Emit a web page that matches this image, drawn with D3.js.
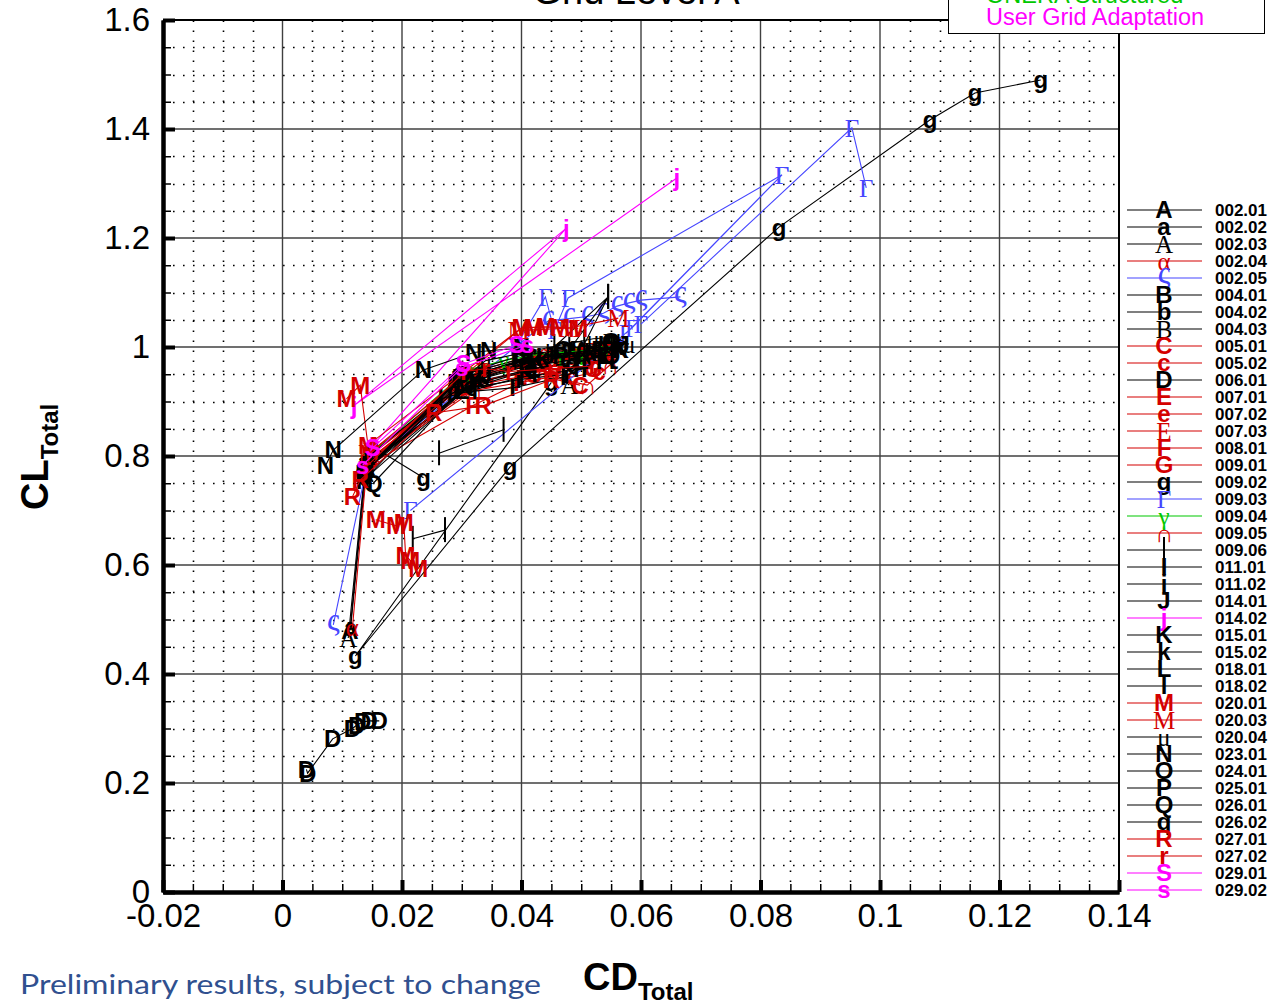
<!DOCTYPE html>
<html>
<head>
<meta charset="utf-8">
<script src="https://cdn.jsdelivr.net/npm/d3@7"></script>
<style>
  body { margin: 0; background: #fff; }
  svg { display: block; }
</style>
</head>
<body>
<svg id="chart" width="1269" height="1006"></svg>
<script>
// ---- Drag polar data: each case is a list of [CD_Total, CL_Total]; null breaks the line ----
const s00201 = [[0.0113,0.480],[0.0138,0.770],[0.0300,0.940],[0.0420,0.980],[0.0500,0.992],[0.0560,1.000]];
const s00202 = [[0.0114,0.485],[0.0140,0.775],[0.0310,0.945],[0.0430,0.985],[0.0510,0.995],[0.0545,1.000]];
const s00203 = [[0.0110,0.466],[0.0137,0.765],[0.0320,0.935],[0.0440,0.965],[0.0480,0.930]];
const s00204 = [[0.0117,0.485],[0.0141,0.778],[0.0320,0.955],[0.0440,0.990],[0.0525,1.000]];
const s00205 = [[0.0085,0.490],[0.0142,0.785],[0.0445,1.048],[0.0480,1.052],[0.0510,1.056],[0.0537,1.062],[0.0560,1.075],[0.0580,1.081],[0.0600,1.086],[0.0666,1.092]];
const s00401 = [[0.0136,0.768],[0.0290,0.935],[0.0400,0.975],[0.0480,0.990],[0.0555,1.005]];
const s00402 = [[0.0139,0.772],[0.0295,0.942],[0.0410,0.978],[0.0490,0.992],[0.0540,1.002]];
const s00403 = [[0.0141,0.780],[0.0305,0.950],[0.0415,0.983],[0.0495,0.996],[0.0550,1.008]];
const s00501 = [[0.0146,0.795],[0.0300,0.925],[0.0420,0.950],[0.0498,0.930]];
const s00502 = [[0.0144,0.790],[0.0295,0.930],[0.0410,0.955],[0.0485,0.945],[0.0530,0.955]];
const s00601 = [[0.0040,0.225],[0.0042,0.218],[0.0084,0.281],[0.0117,0.300],[0.0124,0.306],[0.0134,0.312],[0.0145,0.314],[0.0162,0.314]];
const s00701 = [[0.0145,0.800],[0.0320,0.945],[0.0430,0.970],[0.0500,0.985],[0.0545,0.990]];
const s00702 = [[0.0146,0.805],[0.0330,0.950],[0.0440,0.975],[0.0510,0.990],[0.0550,0.985]];
const s00703 = [[0.0147,0.808],[0.0335,0.955],[0.0450,0.980],[0.0515,0.993]];
const s00801 = [[0.0142,0.782],[0.0318,0.892],[0.0398,0.935],[0.0470,0.965],[0.0520,0.975]];
const s00901 = [[0.0145,0.792],[0.0340,0.940],[0.0450,0.960],[0.0520,0.960]];
const s00902 = [[0.0150,0.818],[0.0236,0.760],null,[0.0450,0.935],[0.0122,0.433],[0.0381,0.780],[0.0831,1.220],[0.1084,1.417],[0.1159,1.466],[0.1269,1.490]];
const s00903 = [[0.0390,1.000],[0.0440,1.092],[0.0455,1.030],[0.0478,1.090],[0.0836,1.316],[0.0585,1.035],[0.0214,0.700],null,[0.0575,1.025],[0.0836,1.316],null,[0.0600,1.042],[0.0953,1.402],[0.0977,1.292]];
const s00904 = [[0.0145,0.800],[0.0310,0.958],[0.0370,0.975],[0.0420,0.985],[0.0465,0.990],[0.0500,0.993],[0.0540,0.996]];
const s00905 = [[0.0143,0.788],[0.0320,0.920],[0.0450,0.945],[0.0510,0.930],[0.0548,0.967]];
const s00906 = [[0.0218,0.648],[0.0272,0.664],null,[0.0262,0.805],[0.0370,0.848],null,[0.0455,1.000],[0.0545,1.092],[0.0480,0.995],null,[0.0545,1.092],[0.0505,1.005]];
const s01101 = [[0.0148,0.790],[0.0280,0.915],[0.0385,0.925],[0.0470,0.945],[0.0530,0.975]];
const s01102 = [[0.0139,0.775],[0.0290,0.920],[0.0395,0.940],[0.0475,0.950]];
const s01401 = [[0.0143,0.785],[0.0340,0.950],[0.0445,0.985],[0.0525,0.995],[0.0570,1.005]];
const s01402 = [[0.0150,0.818],[0.0475,1.218],[0.0120,0.893],[0.0660,1.310]];
const s01501 = [[0.0141,0.780],[0.0325,0.940],[0.0425,0.975],[0.0505,0.985],[0.0565,0.995]];
const s01502 = [[0.0142,0.782],[0.0335,0.945],[0.0435,0.980],[0.0515,0.990],[0.0560,1.000]];
const s01801 = [[0.0135,0.770],[0.0300,0.920],[0.0420,0.960],[0.0500,0.975],[0.0540,0.985]];
const s01802 = [[0.0140,0.778],[0.0265,0.905],[0.0400,0.945],[0.0505,0.960]];
const s02001 = [[0.0156,0.683],[0.0190,0.672],[0.0203,0.678],[0.0206,0.618],[0.0214,0.608],[0.0227,0.594],null,[0.0107,0.905],[0.0130,0.930],[0.0143,0.820],[0.0400,1.035],[0.0420,1.036],[0.0440,1.037],[0.0465,1.036],[0.0495,1.034]];
const s02003 = [[0.0145,0.805],[0.0395,1.030],[0.0480,1.035],[0.0562,1.053]];
const s02004 = [[0.0145,0.800],[0.0340,0.975],[0.0450,1.000],[0.0520,1.015],[0.0557,1.018],[0.0580,1.005]];
const s02301 = [[0.0072,0.782],[0.0085,0.811],[0.0236,0.958],[0.0320,0.990],[0.0345,0.993],[0.0400,0.998]];
const s02401 = [[0.0137,0.768],[0.0300,0.950],[0.0400,0.985],[0.0470,0.995],[0.0550,1.010]];
const s02501 = [[0.0136,0.755],[0.0295,0.940],[0.0395,0.975],[0.0465,0.985],[0.0530,0.995]];
const s02601 = [[0.0152,0.750],[0.0310,0.935],[0.0410,0.965],[0.0480,0.975],[0.0550,0.985]];
const s02602 = [[0.0140,0.760],[0.0315,0.930],[0.0415,0.960],[0.0485,0.970],[0.0545,0.985]];
const s02701 = [[0.0117,0.725],[0.0130,0.756],[0.0253,0.879],[0.0336,0.892],[0.0450,0.940]];
const s02702 = [[0.0140,0.780],[0.0305,0.955],[0.0340,0.960],[0.0380,0.955],[0.0450,0.960],[0.0520,0.965]];
const s02901 = [[0.0151,0.815],[0.0303,0.969],[0.0392,1.004]];
const s02902 = [[0.0134,0.783],[0.0300,0.962],[0.0410,1.004]];

const caseData = [s00201,s00202,s00203,s00204,s00205,s00401,s00402,s00403,s00501,s00502,
  s00601,s00701,s00702,s00703,s00801,s00901,s00902,s00903,s00904,s00905,s00906,
  s01101,s01102,s01401,s01402,s01501,s01502,s01801,s01802,s02001,s02003,s02004,
  s02301,s02401,s02501,s02601,s02602,s02701,s02702,s02901,s02902];

const caseLabels = ["002.01","002.02","002.03","002.04","002.05","004.01","004.02","004.03","005.01","005.02",
  "006.01","007.01","007.02","007.03","008.01","009.01","009.02","009.03","009.04","009.05","009.06",
  "011.01","011.02","014.01","014.02","015.01","015.02","018.01","018.02","020.01","020.03","020.04",
  "023.01","024.01","025.01","026.01","026.02","027.01","027.02","029.01","029.02"];

const caseSymbols = ["A","a","A","α","ς","B","b","B","C","c",
  "D","E","e","E","F","G","g","Γ","γ","∩","|",
  "I","i","J","j","K","k","L","l","M","M","μ",
  "N","O","P","Q","q","R","r","S","s"];

const xTickValues = [-0.02, 0, 0.02, 0.04, 0.06, 0.08, 0.1, 0.12, 0.14];
const yTickValues = [0, 0.2, 0.4, 0.6, 0.8, 1, 1.2, 1.4, 1.6];
const topLegendLabels = ["ONERA Structured", "User Grid Adaptation"];

// ---- styles ----
const K = "#000000", RED = "#d40000", BLU = "#4646ff", GRN = "#00c800", MAG = "#ff00ff";
const caseColors = [K,K,K,RED,BLU,K,K,K,RED,RED,
  K,RED,RED,RED,RED,RED,K,BLU,GRN,RED,K,
  K,K,K,MAG,K,K,K,K,RED,RED,K,
  K,K,K,K,K,RED,RED,MAG,MAG];
// "s" = serif regular glyph, "b" = bold sans glyph
const caseFace = ["b","b","s","s","s","b","b","s","b","b",
  "b","b","b","s","b","b","b","s","s","s","s",
  "b","b","b","b","b","b","b","b","b","s","s",
  "b","b","b","b","b","b","b","b","b"];

const SANS = "'Liberation Sans', Arial, Helvetica, sans-serif";
const SERIF = "'Liberation Serif', 'Times New Roman', 'DejaVu Serif', serif";
const BOLD_SIZE = 24, SERIF_SIZE = 25;

const svg = d3.select("#chart");
const x = d3.scaleLinear().domain([-0.02, 0.14]).range([163, 1119]);
const y = d3.scaleLinear().domain([0, 1.6]).range([892, 20]);

// ---- grid ----
const grid = svg.append("g");
const xMinor = d3.range(-0.02, 0.1401, 0.005).filter(v => Math.abs(Math.round(v / 0.02) * 0.02 - v) > 1e-6);
const yMinor = d3.range(0, 1.6001, 0.05).filter(v => Math.abs(Math.round(v / 0.2) * 0.2 - v) > 1e-6);
const px = v => Math.round(v) + 0.5;
grid.selectAll(".xmin").data(xMinor).join("line")
  .attr("x1", d => px(x(d))).attr("x2", d => px(x(d))).attr("y1", y(0)).attr("y2", y(1.6))
  .attr("stroke", "#000").attr("stroke-width", 1.6).attr("stroke-dasharray", "1.6,8.4");
grid.selectAll(".ymin").data(yMinor).join("line")
  .attr("x1", x(-0.02)).attr("x2", x(0.14)).attr("y1", d => px(y(d))).attr("y2", d => px(y(d)))
  .attr("stroke", "#000").attr("stroke-width", 1.6).attr("stroke-dasharray", "1.6,8.4");
grid.selectAll(".xmaj").data(xTickValues.slice(1, -1)).join("line")
  .attr("x1", d => x(d)).attr("x2", d => x(d)).attr("y1", y(0)).attr("y2", y(1.6))
  .attr("stroke", "#404040").attr("stroke-width", 1.4);
grid.selectAll(".ymaj").data(yTickValues.slice(1, -1)).join("line")
  .attr("x1", x(-0.02)).attr("x2", x(0.14)).attr("y1", d => y(d)).attr("y2", d => y(d))
  .attr("stroke", "#404040").attr("stroke-width", 1.4);

// frame top / right
svg.append("line").attr("x1", x(-0.02)).attr("x2", x(0.14)).attr("y1", y(1.6)).attr("y2", y(1.6))
  .attr("stroke", "#000").attr("stroke-width", 2);
svg.append("line").attr("x1", x(0.14)).attr("x2", x(0.14)).attr("y1", y(0)).attr("y2", y(1.6))
  .attr("stroke", "#000").attr("stroke-width", 2);

// ---- axes ----
const fmt = d => String(+d.toFixed(2));
const xAxisMinor = d3.axisBottom(x).tickValues(xMinor).tickSizeInner(-8).tickSizeOuter(0).tickFormat("");
const xAxis = d3.axisBottom(x).tickValues(xTickValues).tickSizeInner(-12).tickSizeOuter(0).tickPadding(12).tickFormat(fmt);
const yAxisMinor = d3.axisLeft(y).tickValues(yMinor).tickSizeInner(-8).tickSizeOuter(0).tickFormat("");
const yAxis = d3.axisLeft(y).tickValues(yTickValues).tickSizeInner(-12).tickSizeOuter(0).tickPadding(13).tickFormat(fmt);

function styleAxis(g, major) {
  g.select(".domain").attr("stroke", "#000").attr("stroke-width", 4);
  g.selectAll(".tick line").attr("stroke", "#000").attr("stroke-width", major ? 4 : 1.5);
  g.selectAll(".tick text").attr("font-family", SANS).attr("font-size", 33).attr("fill", "#000");
}
svg.append("g").attr("transform", `translate(0,${y(0)})`).call(xAxisMinor).call(g => styleAxis(g, false));
svg.append("g").attr("transform", `translate(0,${y(0)})`).call(xAxis).call(g => styleAxis(g, true));
svg.append("g").attr("transform", `translate(${x(-0.02)},0)`).call(yAxisMinor).call(g => styleAxis(g, false));
svg.append("g").attr("transform", `translate(${x(-0.02)},0)`).call(yAxis).call(g => styleAxis(g, true));

// ---- symbol drawing (text glyphs; the 009.06 marker is a plain vertical bar) ----
function drawSymbol(sel, i) {
  const sym = caseSymbols[i];
  if (sym === "|") {
    sel.append("line").attr("x1", 0).attr("x2", 0).attr("y1", -13).attr("y2", 12)
      .attr("stroke", caseColors[i]).attr("stroke-width", 2);
  } else {
    sel.append("text").attr("dy", sym === "ς" ? "0.15em" : "0.35em").attr("text-anchor", "middle")
      .attr("font-family", caseFace[i] === "b" ? SANS : SERIF)
      .attr("font-weight", caseFace[i] === "b" ? "bold" : "normal")
      .attr("font-size", sym === "ς" ? 32 : (caseFace[i] === "b" ? BOLD_SIZE : SERIF_SIZE))
      .attr("fill", caseColors[i])
      .text(sym);
  }
}

// ---- polar lines and symbols ----
const line = d3.line().defined(d => d !== null).x(d => x(d[0])).y(d => y(d[1]));
const plot = svg.append("g");
caseData.forEach((pts, i) => {
  const g = plot.append("g");
  g.append("path").datum(pts).attr("d", line)
    .attr("fill", "none").attr("stroke", caseColors[i]).attr("stroke-width", 1.1);
  g.selectAll("g.mk").data(pts.filter(p => p !== null)).join("g").attr("class", "mk")
    .attr("transform", d => `translate(${x(d[0])},${y(d[1])})`)
    .each(function () { drawSymbol(d3.select(this), i); });
});

// ---- case legend (right) ----
const leg = svg.append("g");
caseLabels.forEach((lab, i) => {
  const yy = 210 + i * 17;
  leg.append("line").attr("x1", 1127).attr("x2", 1202).attr("y1", yy).attr("y2", yy)
    .attr("stroke", caseColors[i]).attr("stroke-width", 1.1);
  drawSymbol(leg.append("g").attr("transform", `translate(1164,${yy})`), i);
  leg.append("text").attr("x", 1215).attr("y", yy + 6)
    .attr("font-family", SANS).attr("font-weight", "bold").attr("font-size", 17)
    .attr("fill", "#000").text(lab);
});

// ---- grid-type legend box (top right) ----
svg.append("rect").attr("x", 948.5).attr("y", -60).attr("width", 316).attr("height", 93.5)
  .attr("fill", "#fff").attr("stroke", "#000").attr("stroke-width", 1);
[GRN, MAG].forEach((c, i) => {
  svg.append("text").attr("x", 986).attr("y", 3 + i * 22)
    .attr("font-family", SANS).attr("font-size", 23.5).attr("fill", c).text(topLegendLabels[i]);
});

// ---- titles ----
svg.append("text").attr("x", 636).attr("y", 4).attr("text-anchor", "middle")
  .attr("font-family", SANS).attr("font-size", 38).attr("fill", "#000").text("Grid Level A");

const xt = svg.append("text").attr("x", 583).attr("y", 990)
  .attr("font-family", SANS).attr("font-weight", "bold").attr("fill", "#000");
xt.append("tspan").attr("font-size", 38).text("CD");
xt.append("tspan").attr("font-size", 24).attr("dy", 10).text("Total");

const yt = svg.append("text").attr("transform", "translate(48,510) rotate(-90)")
  .attr("font-family", SANS).attr("font-weight", "bold").attr("fill", "#000");
yt.append("tspan").attr("font-size", 38).text("CL");
yt.append("tspan").attr("font-size", 24).attr("dy", 10).text("Total");

svg.append("text").attr("x", 20).attr("y", 994)
  .attr("font-family", "Lato, 'Open Sans', sans-serif").attr("font-size", 27)
  .attr("fill", "#30508f").attr("textLength", 521).attr("lengthAdjust", "spacingAndGlyphs")
  .text("Preliminary results, subject to change");
</script>
</body>
</html>
